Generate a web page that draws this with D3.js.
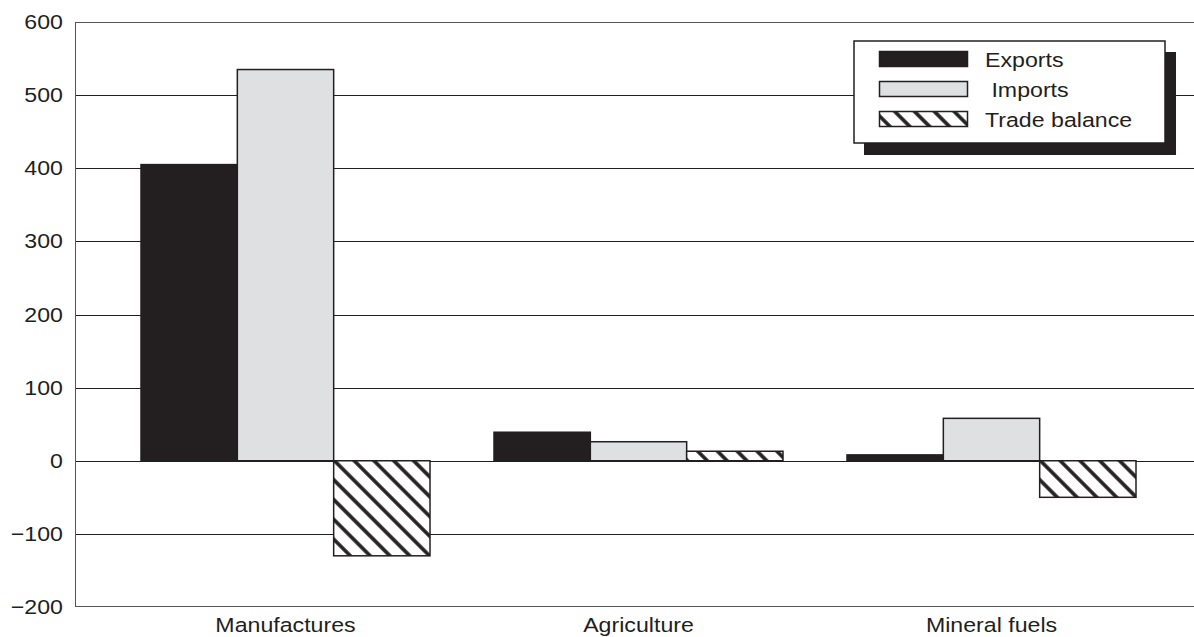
<!DOCTYPE html>
<html>
<head>
<meta charset="utf-8">
<script src="https://cdn.jsdelivr.net/npm/d3@7"></script>
<style>
  html, body { margin: 0; padding: 0; background: #fff; }
  svg { display: block; font-family: "Liberation Sans", Arial, sans-serif; }
</style>
</head>
<body>
<svg id="chart" width="1194" height="637"></svg>
<script>
// Trade by product group (billions)
const categories = ["Manufactures", "Agriculture", "Mineral fuels"];
const seriesNames = ["Exports", "Imports", "Trade balance"];
const exportsVals = [405, 39, 8];
const importsVals = [535, 26, 58];
const balanceVals = [-130, 13, -50];
const yTicks = [-200, -100, 0, 100, 200, 300, 400, 500, 600];

const series = [exportsVals, importsVals, balanceVals];

const svg = d3.select("#chart");
const W = 1194, H = 637;
const plotLeft = 75, plotTop = 22, plotBottom = 607;
const fontSize = 20.5;
const stretch = "scale(1.13,1)";

// diagonal hatch used for the trade balance bars
const defs = svg.append("defs");
const pat = defs.append("pattern")
  .attr("id", "hatch")
  .attr("patternUnits", "userSpaceOnUse")
  .attr("width", 14).attr("height", 14)
  .attr("patternTransform", "rotate(-45)");
pat.append("rect").attr("width", 14).attr("height", 14).attr("fill", "#fff");
pat.append("line").attr("x1", 7).attr("y1", 0).attr("x2", 7).attr("y2", 14)
  .attr("stroke", "#231f20").attr("stroke-width", 3.6);

const fills = ["#231f20", "#dfe0e2", "url(#hatch)"];
const strokes = ["#231f20", "#231f20", "#231f20"];

const y = d3.scaleLinear().domain([-200, 600]).range([plotBottom, plotTop]);

const x0 = d3.scaleBand().domain(categories)
  .range([109, 1168])
  .paddingInner(64 / 353)
  .paddingOuter(32 / 353);
const x1 = d3.scaleBand().domain(d3.range(seriesNames.length))
  .range([0, x0.bandwidth()]);

// gridlines
svg.append("g")
  .selectAll("line")
  .data(yTicks.filter(t => t > -200 && t < 600))
  .join("line")
  .attr("x1", plotLeft).attr("x2", W)
  .attr("y1", d => Math.round(y(d)) + 0.5).attr("y2", d => Math.round(y(d)) + 0.5)
  .attr("stroke", "#231f20").attr("stroke-width", 1);

// frame top / bottom / left
const frame = svg.append("g").attr("stroke", "#555").attr("stroke-width", 1).attr("fill", "none");
frame.append("line").attr("x1", plotLeft).attr("x2", W)
  .attr("y1", Math.round(y(600)) + 0.5).attr("y2", Math.round(y(600)) + 0.5);
frame.append("line").attr("x1", plotLeft).attr("x2", W)
  .attr("y1", Math.round(y(-200)) - 0.5).attr("y2", Math.round(y(-200)) - 0.5);
frame.append("line").attr("x1", plotLeft + 0.5).attr("x2", plotLeft + 0.5)
  .attr("y1", y(600)).attr("y2", y(-200));

// y axis labels
const yAxis = d3.axisLeft(y).tickValues(yTicks).tickSize(0).tickPadding(0)
  .tickFormat(d => d < 0 ? "\u2212" + Math.abs(d) : String(d));
const gy = svg.append("g").attr("transform", `translate(${plotLeft - 12},0)`).call(yAxis);
gy.select(".domain").remove();
gy.selectAll("text").attr("font-size", fontSize).attr("fill", "#231f20")
  .attr("font-family", "Liberation Sans, Arial, sans-serif")
  .attr("transform", stretch);

// bars
const groups = svg.append("g").selectAll("g")
  .data(categories)
  .join("g")
  .attr("transform", d => `translate(${x0(d)},0)`);

groups.selectAll("rect")
  .data((c, ci) => series.map((s, si) => ({ si, v: s[ci] })))
  .join("rect")
  .attr("x", d => x1(d.si))
  .attr("width", x1.bandwidth())
  .attr("y", d => y(Math.max(0, d.v)))
  .attr("height", d => Math.abs(y(d.v) - y(0)))
  .attr("fill", d => fills[d.si])
  .attr("stroke", d => strokes[d.si])
  .attr("stroke-width", 1.5);

// category labels
const xAxis = d3.axisBottom(x0).tickSize(0).tickPadding(0);
const gx = svg.append("g").attr("transform", `translate(0,${plotBottom + 9})`).call(xAxis);
gx.select(".domain").remove();
gx.selectAll("text").attr("font-size", fontSize).attr("fill", "#231f20")
  .attr("dy", "0.78em")
  .attr("font-family", "Liberation Sans, Arial, sans-serif")
  .attr("transform", stretch);

// legend with drop shadow
const lg = svg.append("g").attr("transform", "translate(854,41)");
lg.append("rect").attr("x", 10).attr("y", 11).attr("width", 312).attr("height", 103)
  .attr("fill", "#231f20");
lg.append("rect").attr("x", 0).attr("y", 0).attr("width", 311).attr("height", 102)
  .attr("fill", "#fff").attr("stroke", "#231f20").attr("stroke-width", 1.5);

const legendRows = [10, 40, 70];
const legendText = ["Exports", " Imports", "Trade balance"];
legendRows.forEach((ry, i) => {
  lg.append("rect").attr("x", 25.5).attr("y", ry + 0.5).attr("width", 88).attr("height", 15)
    .attr("fill", fills[i]).attr("stroke", "#231f20").attr("stroke-width", 1.5);
  lg.append("text")
    .attr("transform", `translate(131,${ry + 16}) ${stretch}`)
    .attr("font-size", fontSize).attr("fill", "#231f20")
    .attr("xml:space", "preserve")
    .style("white-space", "pre")
    .text(legendText[i]);
});
</script>
</body>
</html>
